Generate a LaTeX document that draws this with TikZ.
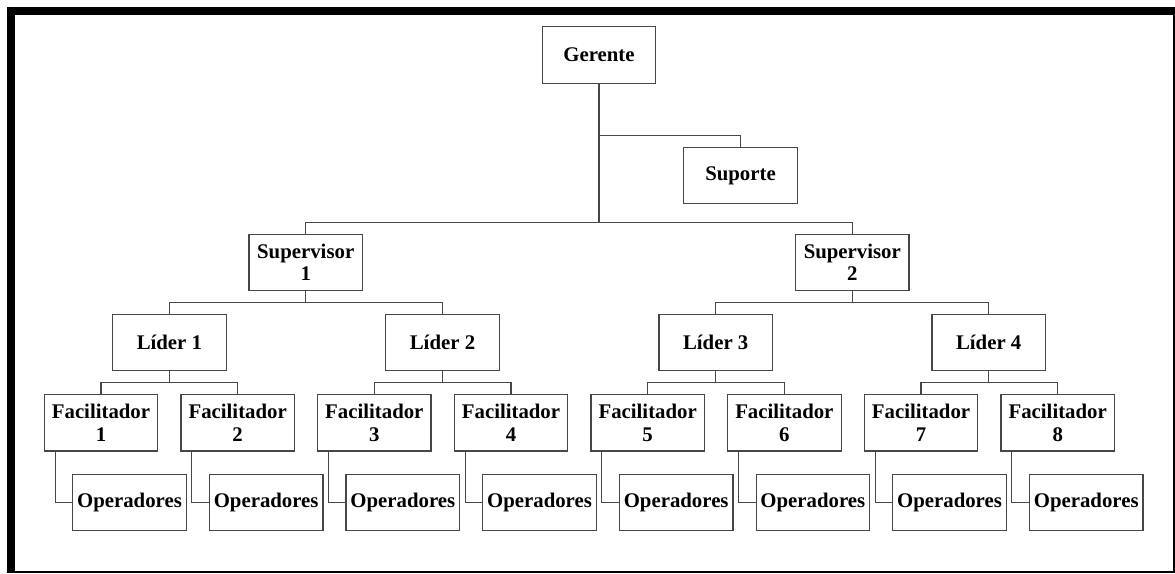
\documentclass[tikz,border=0pt]{standalone}
\usepackage{fontspec}
\setmainfont{Liberation Serif}
\begin{document}
\begin{tikzpicture}[x=1pt, y=-1pt,
  linecol/.style={draw=black!72},
  box/.style={rectangle, linecol, line width=1.2pt, fill=white,
    minimum width=113.5pt, minimum height=56.5pt, inner sep=0pt,
    align=center, font=\fontsize{20.8}{22.4}\selectfont\bfseries},
  wire/.style={linecol, line width=1.1pt}]
\useasboundingbox (0,0) rectangle (1175,573);

% page frame: heavy top and left edges, thin right and bottom edges
\fill[black] (7.3,7.3) rectangle (1175,15);
\fill[black] (7.3,7.3) rectangle (15,573);
\fill[black] (1172.8,7.3) rectangle (1175,573);
\fill[black] (7.3,570.7) rectangle (1175,572.7);

% top of the hierarchy
\node[box] (ger) at (599,55) {Gerente};
\node[box] (supo) at (740.5,175.5) {Suporte};
\node[box] (sv1) at (305.7,262.4) {Supervisor\\1};
\node[box] (sv2) at (852.3,262.4) {Supervisor\\2};

\draw[wire] (ger.south) -- (ger.south |- 0,222.3);
\draw[wire] (ger.south |- 0,135.7) -| (supo.north);
\draw[wire] (sv1.north) |- (ger.south |- 0,222.3) -| (sv2.north);

% team leaders
\node[box] (l1) at (169.4,342.5) {Líder 1};
\node[box] (l2) at (442.5,342.5) {Líder 2};
\node[box] (l3) at (715.7,342.5) {Líder 3};
\node[box] (l4) at (988.7,342.5) {Líder 4};

\draw[wire] (sv1.south) -- (sv1.south |- 0,302.6);
\draw[wire] (l1.north) |- (sv1.south |- 0,302.6) -| (l2.north);
\draw[wire] (sv2.south) -- (sv2.south |- 0,302.6);
\draw[wire] (l3.north) |- (sv2.south |- 0,302.6) -| (l4.north);

% facilitators, each with its group of operators
\foreach \i in {1,...,8} {
  \pgfmathsetmacro\cx{101+136.67*(\i-1)}
  \node[box] (f\i) at (\cx,422.7) {Facilitador\\\i};
  \node[box] (o\i) at (\cx+28.5,502.5) {Operadores};
  \draw[wire] ([xshift=11.5pt]f\i.south west) |- (o\i.west);
}

\foreach \l/\a/\b in {l1/f1/f2, l2/f3/f4, l3/f5/f6, l4/f7/f8} {
  \draw[wire] (\l.south) -- (\l.south |- 0,382.7);
  \draw[wire] (\a.north) |- (\l.south |- 0,382.7) -| (\b.north);
}
\end{tikzpicture}
\end{document}
